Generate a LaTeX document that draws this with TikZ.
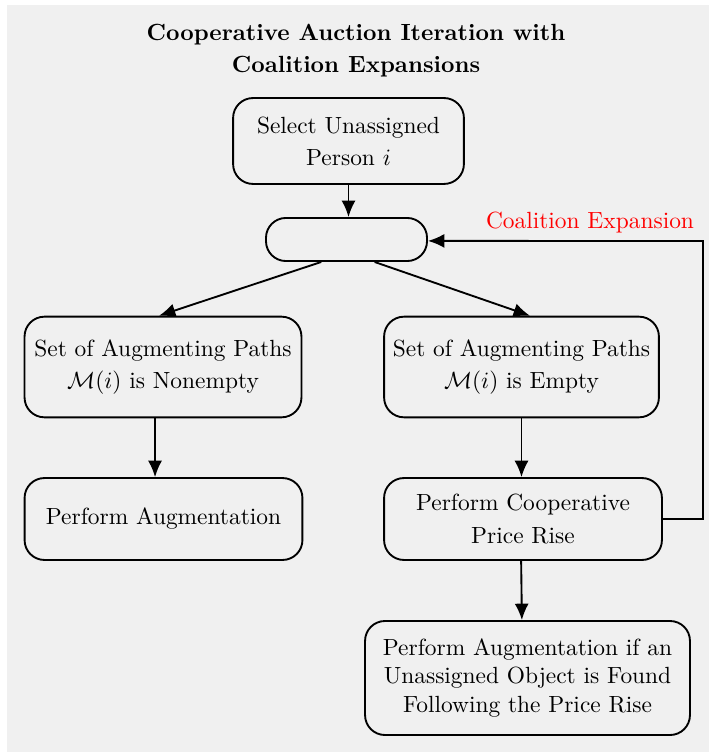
\documentclass[tikz,border=0pt]{standalone}
\usepackage{amsmath}
\usepackage{amssymb}
\usetikzlibrary{arrows.meta}
\definecolor{bggray}{RGB}{240,240,240}
\tikzset{stepbox/.style={draw,thick,rounded corners=8.5pt,align=center,inner sep=2pt},
	flow/.style={draw,thick,-{Latex[length=7pt,width=6pt]}}}

\begin{document}
\begin{tikzpicture}[x=0.01502cm,y=-0.01502cm]
		\useasboundingbox (0,0) rectangle (709,752);
		\fill[bggray] (7,5) rectangle (709,752);
		\node[font=\bfseries,align=center] (title) at (356,51) {Cooperative Auction Iteration with\\[1.7pt]Coalition Expansions};
		\begin{scope}[every node/.style={stepbox}]
			\node[minimum width=98.6pt,minimum height=36.7pt] (select) at (348.5,141) {Select Unassigned\\[1.7pt]Person $i$};
			\node[minimum width=68.8pt,minimum height=18.4pt] (split) at (346.5,239.5) {};
			\node[minimum width=118.3pt,minimum height=43pt] (nonempty) at (163,367) {Set of Augmenting Paths\\[1.7pt]$\mathcal{M}(i)$ is Nonempty};
			\node[minimum width=117.4pt,minimum height=43pt] (empty) at (521.5,367) {Set of Augmenting Paths\\[1.7pt]$\mathcal{M}(i)$ is Empty};
			\node[minimum width=118.7pt,minimum height=35pt] (augment) at (163.5,519) {Perform Augmentation};
			\node[minimum width=118.7pt,minimum height=35pt] (pricerise) at (523,519) {Perform Cooperative\\[1.7pt]Price Rise};
			\node[minimum width=138.8pt,minimum height=48.7pt] (final) at (527.5,678) {Perform Augmentation if an\\Unassigned Object is Found\\Following the Price Rise};
		\end{scope}
		\node[text=red] (expansion) at (590,223) {Coalition Expansion};
		\coordinate (turn) at (703,241);
		\begin{scope}[every path/.style={flow}]
			\path (select.south) -- (select.south |- split.north);
			\path ([xshift=-10.8pt]split.south) -- ([xshift=-1.7pt]nonempty.north);
			\path ([xshift=12pt]split.south) -- ([xshift=3.6pt]empty.north);
			\path ([xshift=-3.4pt]nonempty.south) -- ([xshift=-3.4pt]nonempty.south |- augment.north);
			\path (empty.south) -- (empty.south |- pricerise.north);
			\path ([xshift=-0.8pt]pricerise.south) -- ([xshift=-2.4pt]final.north);
			\path (pricerise.east) -| (turn) -- ([yshift=-0.6pt]split.east);
		\end{scope}
	\end{tikzpicture}
\end{document}
